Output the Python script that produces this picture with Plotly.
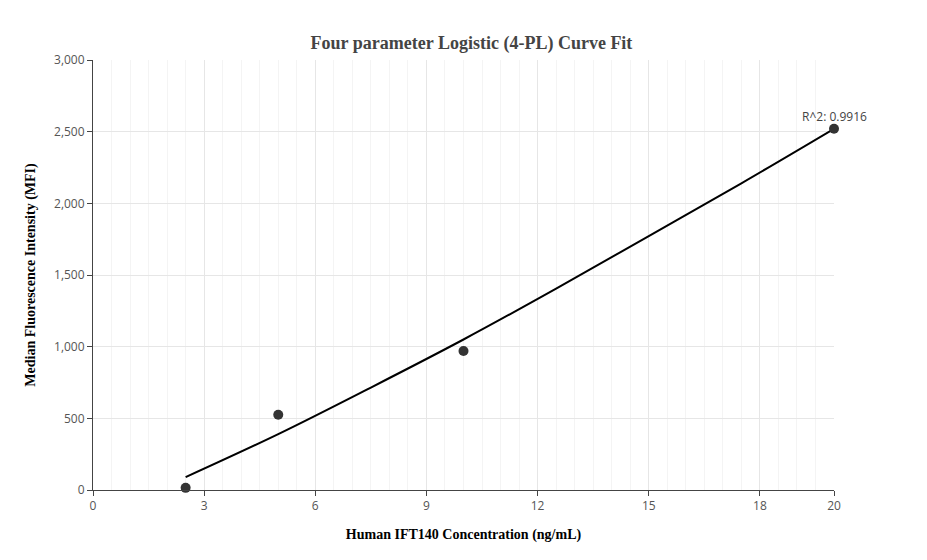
import plotly.graph_objects as go

conc = [2.5, 5, 10, 20]
mfi = [15, 525, 970, 2520]
fit_x = [2.5, 5, 7.5, 10, 12.5, 15, 17.5, 20]
fit_y = [90, 390, 715, 1050, 1405, 1772, 2140, 2520]
x_ticks = [0, 3, 6, 9, 12, 15, 18, 20]

fig = go.Figure()
fig.add_trace(go.Scatter(x=fit_x, y=fit_y, mode='lines', line=dict(color='black', width=2, shape='spline'),
                         showlegend=False, hoverinfo='skip', cliponaxis=False))
fig.add_trace(go.Scatter(x=conc, y=mfi, mode='markers', marker=dict(color='#333333', size=10),
                         showlegend=False, cliponaxis=False))
fig.add_annotation(x=20, y=2520, text="R^2: 0.9916", showarrow=False, yshift=12,
                   font=dict(family="Open Sans", size=12, color='#444'))

axis_common = dict(showline=True, linecolor='#444', gridcolor='#e6e6e6', zeroline=False,
                   ticks='outside', ticklen=5, tickcolor='#444',
                   tickfont=dict(family="Open Sans", size=12, color='#555'))
fig.update_layout(
    width=927, height=560,
    plot_bgcolor='white', paper_bgcolor='white',
    title=dict(text="Four parameter Logistic (4-PL) Curve Fit", x=0.5, y=0.95,
               font=dict(family="Liberation Serif", size=18, color='#444', weight='bold')),
    margin=dict(l=85, r=101, t=52, b=78),
    xaxis=dict(range=[0, 20], tickvals=x_ticks, title=dict(text="Human IFT140 Concentration (ng/mL)",
               font=dict(family="Liberation Serif", size=14, color='black', weight='bold')),
               minor=dict(dtick=0.5, gridcolor='#f4f4f4', showgrid=True), **axis_common),
    yaxis=dict(range=[0, 3000], dtick=500, tickformat=',', title=dict(text="Median Fluorescence Intensity (MFI)",
               font=dict(family="Liberation Serif", size=14, color='black', weight='bold')),
               **axis_common),
)
fig.write_html("out.html")
